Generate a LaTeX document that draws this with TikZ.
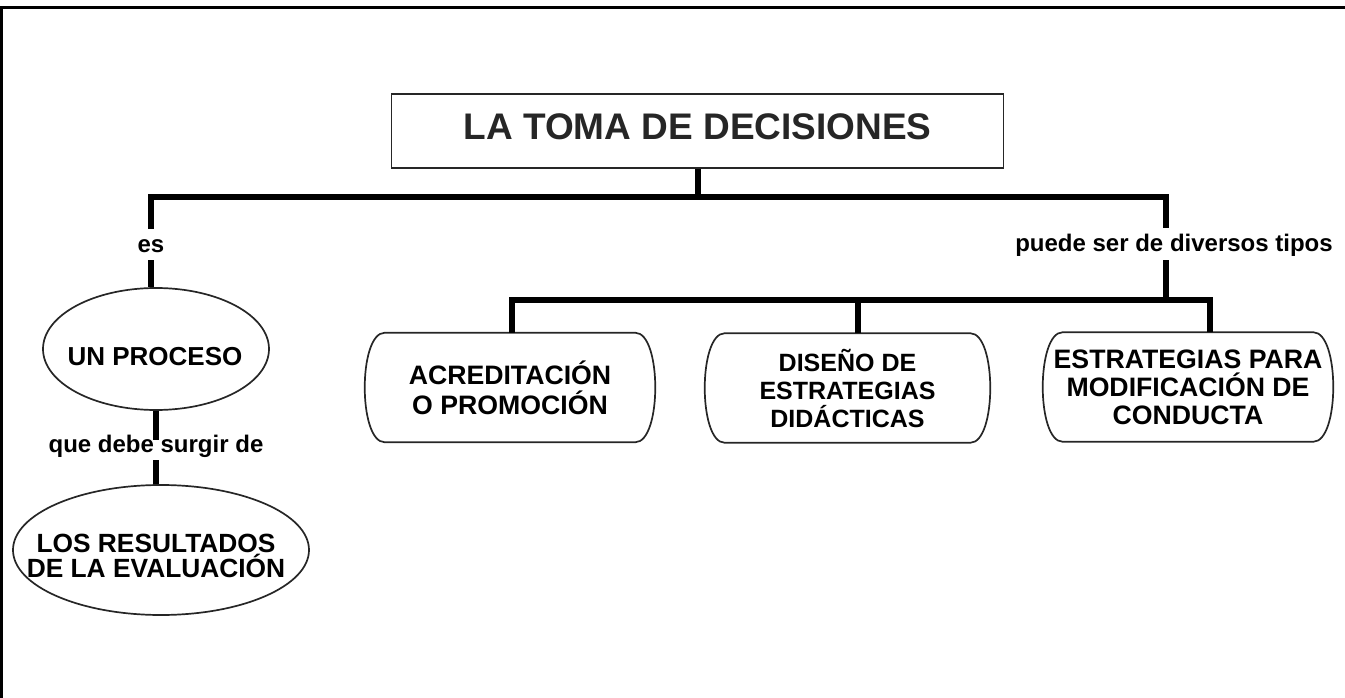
\documentclass[tikz,border=0pt]{standalone}
\usepackage{fontspec}
\setmainfont{Liberation Sans}
\usetikzlibrary{shapes.geometric,calc}
\def\PX{0.75pt}
\tikzset{
  conn/.style={line width=6*\PX, line join=miter, black},
  frameline/.style={line width=3*\PX, line join=miter, black},
  outline/.style={line width=1.7*\PX, black!85},
  titlebox/.style={outline, draw, rectangle, minimum width=612*\PX, minimum height=74*\PX, inner sep=0pt,
    font=\fontsize{27.75pt}{33pt}\selectfont\bfseries, text depth=6.75pt},
  oval/.style={outline, draw, ellipse, inner sep=0pt},
  ovaltext/.style={inner sep=0pt, align=center, font=\fontsize{19.75pt}{16.5pt}\selectfont\bfseries},
  capsule/.style={rectangle, minimum height=109*\PX, inner sep=0pt, align=center,
    font=\fontsize{20pt}{21pt}\selectfont\bfseries},
  linklabel/.style={inner xsep=2pt, inner ysep=0pt, anchor=base, font=\fontsize{18pt}{22pt}\selectfont\bfseries},
}
\begin{document}
\begin{tikzpicture}[x=0.75pt, y=-0.75pt]
\useasboundingbox (0,0) rectangle (1345,698);
% frame
\coordinate (fA) at (1.5,698);
\coordinate (fB) at (1.5,8);
\coordinate (fC) at (1345,8);
\draw[frameline] (fA) -- (fB) -- (fC);

% nodes
\node[titlebox] (title) at (697.5,131) {LA TOMA DE DECISIONES};
\node[linklabel, text height=18pt, text depth=5.25pt] (es) at (151,253) {es};
\node[linklabel, text height=18pt, text depth=6pt] (puede) at (1174,252) {puede ser de diversos tipos};
\node[oval, minimum width=226*\PX, minimum height=122*\PX] (proc) at (156,349) {};
\node[ovaltext, font=\fontsize{19.5pt}{20pt}\selectfont\bfseries] (procT) at (155,356.5) {UN PROCESO};
\node[linklabel, text height=9pt, text depth=6pt] (que) at (156,452) {que debe surgir de};
\node[oval, minimum width=296*\PX, minimum height=130*\PX] (res) at (161,550) {};
\node[ovaltext] (resT) at (156,556) {LOS RESULTADOS\\DE LA EVALUACIÓN};
\node[capsule, minimum width=290*\PX, font=\fontsize{20pt}{22.5pt}\selectfont\bfseries] (acr) at (510,387.5) {ACREDITACIÓN\\O PROMOCIÓN};
\node[capsule, minimum width=285*\PX, font=\fontsize{18.75pt}{21pt}\selectfont\bfseries] (dis) at (847.5,388) {DISEÑO DE\\ESTRATEGIAS\\DIDÁCTICAS};
\node[capsule, minimum width=290*\PX] (est) at (1188,387) {ESTRATEGIAS PARA\\MODIFICACIÓN DE\\CONDUCTA};

% capsule outlines
\foreach \n in {acr,dis,est}{
  \draw[outline] ($(\n.north west)+(20,0)$) -- ($(\n.north east)+(-20,0)$)
    .. controls ($(\n.north east)+(6.67,0)$) and ($(\n.south east)+(6.67,0)$) .. ($(\n.south east)+(-20,0)$)
    -- ($(\n.south west)+(20,0)$)
    .. controls ($(\n.south west)+(-6.67,0)$) and ($(\n.north west)+(-6.67,0)$) .. cycle;
}

% connectors
\coordinate (bL) at (151,197);
\coordinate (bR) at (1166,197);
\draw[conn] (es.north) -- (bL) -- (bR) -- (bR |- puede.north);
\draw[conn] (title.south) -- (title.south |- bL);
\draw[conn] (es.south) -- (es.south |- proc.north);
\draw[conn] (proc.south) -- (que.north);
\draw[conn] (que.south) -- (que.south |- res.north);

\coordinate (cL) at (512,300);
\coordinate (cM) at (858,300);
\coordinate (cT) at (1166,300);
\coordinate (cR) at (1210,300);
\draw[conn] (cL |- acr.north) -- (cL) -- (cR) -- (cR |- est.north);
\draw[conn] (bR |- puede.south) -- (cT);
\draw[conn] (cM) -- (cM |- dis.north);
\end{tikzpicture}
\end{document}
